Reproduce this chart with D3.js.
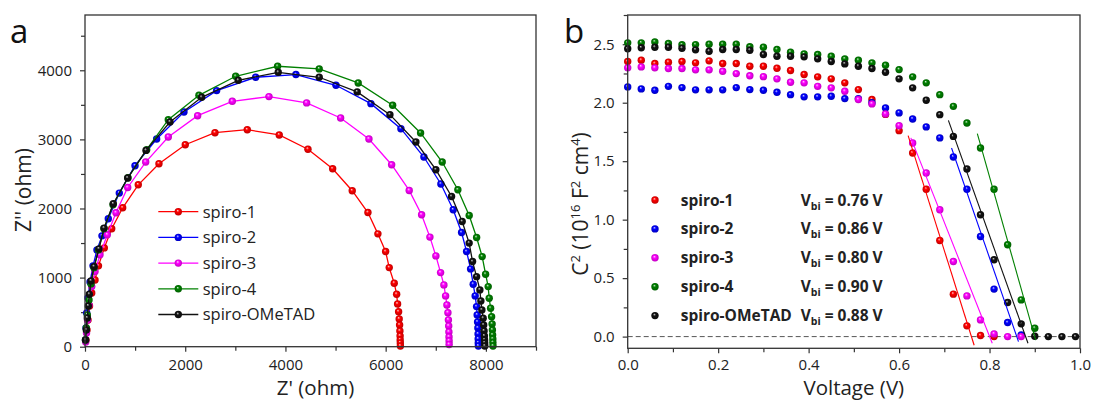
<!DOCTYPE html>
<html><head><meta charset="utf-8">
<script src="https://cdn.jsdelivr.net/npm/d3@7"></script>
<style>body{margin:0;background:#fff}svg{display:block;font-family:"Open Sans",sans-serif}</style>
</head><body><svg id="c" width="1093" height="401"></svg>
<script>
// ---------- data ----------
const seriesNames = ["spiro-1","spiro-2","spiro-3","spiro-4","spiro-OMeTAD"];
const seriesColors = ["#ff0000","#0000ff","#ff00ff","#008000","#111111"];

// Panel a: Nyquist (Z', Z'')
const zRe1 = [20,40,60,90,134,200,269,385,533,752,1063,1476,2001,2594,3238,3876,4449,4942,5333,5646,5845,5999,6071,6171,6219,6238,6258,6270,6278,6284,6288,6290,6292,6294];
const zIm1 = [97,242,387,590,778,966,1170,1430,1706,2010,2343,2648,2923,3097,3140,3064,2858,2575,2257,1942,1633,1377,1145,919,759,619,507,401,314,228,155,97,54,10];
const zRe2 = [10,20,34,60,100,160,239,339,465,684,998,1430,1975,2627,3406,4209,5008,5706,6304,6763,7102,7348,7515,7615,7695,7747,7786,7814,7826,7834,7840,7844,7846,7848,7850];
const zIm2 = [97,271,488,706,938,1170,1401,1604,1851,2223,2619,3006,3397,3706,3899,3938,3783,3517,3155,2745,2354,1981,1652,1377,1126,904,735,580,459,358,271,184,112,54,10];
const zRe3 = [14,30,50,80,134,200,299,445,618,852,1211,1662,2248,2939,3671,4423,5101,5666,6119,6470,6717,6883,7002,7096,7162,7196,7222,7242,7252,7258,7262,7264,7266,7267];
const zIm3 = [68,199,387,604,870,1087,1329,1619,1938,2304,2672,3035,3343,3551,3619,3528,3310,3006,2633,2261,1909,1586,1314,1072,894,735,604,493,387,300,213,141,83,32];
const zRe4 = [10,26,46,80,120,180,269,379,559,858,1231,1662,2274,3007,3844,4674,5452,6139,6697,7128,7441,7667,7815,7926,7994,8046,8066,8094,8114,8124,8130,8134,8138,8140,8142];
const zIm4 = [97,271,459,677,909,1141,1401,1706,2054,2445,2851,3285,3638,3913,4058,4020,3817,3493,3093,2672,2271,1899,1580,1304,1049,870,701,557,435,329,242,170,112,61,10];
const zRe5 = [10,26,46,66,86,120,180,279,379,565,852,1217,1696,2328,3058,3856,4674,5432,6085,6603,7002,7315,7527,7666,7734,7814,7880,7900,7920,7946,7956,7964,7970,7974,7976,7978];
const zIm5 = [97,242,416,590,759,952,1159,1416,1716,2068,2441,2841,3252,3609,3855,3971,3899,3687,3358,2962,2561,2174,1812,1499,1232,1014,822,662,532,412,314,228,155,97,54,10];

const aXTicks = [0,2000,4000,6000,8000];
const aXMinor = [1000,3000,5000,7000,9000];
const aYTicks = [0,1000,2000,3000,4000];
const aYMinor = [500,1500,2500,3500,4500];

// Panel b: Mott-Schottky (C^-2 vs V)
const voltage = [0,0.03,0.06,0.09,0.12,0.15,0.18,0.21,0.24,0.27,0.30,0.33,0.36,0.39,0.42,0.45,0.48,0.51,0.54,0.57,0.60,0.63,0.66,0.69,0.72,0.75,0.78,0.81,0.84,0.87,0.90,0.93,0.96,0.99];
const c2_1 = [2.352,2.363,2.335,2.346,2.352,2.341,2.358,2.335,2.335,2.312,2.312,2.295,2.275,2.241,2.221,2.204,2.17,2.112,2.027,1.90,1.761,1.57,1.26,0.822,0.363,0.092,0.009,0.0];
const c2_2 = [2.135,2.118,2.106,2.140,2.129,2.11,2.11,2.11,2.129,2.112,2.106,2.089,2.069,2.05,2.05,2.055,2.035,2.035,2.00,1.955,1.913,1.861,1.793,1.699,1.536,1.26,0.856,0.406,0.12,0.015];
const c2_3 = [2.298,2.306,2.298,2.292,2.292,2.281,2.281,2.269,2.249,2.23,2.223,2.204,2.175,2.17,2.14,2.127,2.098,2.027,1.99,1.904,1.804,1.656,1.399,1.085,0.642,0.348,0.143,0.023,0.0,0.0];
const c2_4 = [2.512,2.512,2.52,2.506,2.495,2.497,2.50,2.50,2.50,2.478,2.474,2.455,2.432,2.418,2.412,2.397,2.375,2.363,2.341,2.32,2.283,2.221,2.17,2.069,1.969,1.827,1.613,1.26,0.785,0.314,0.072];
const c2_5 = [2.461,2.47,2.474,2.474,2.466,2.452,2.44,2.455,2.455,2.449,2.412,2.397,2.397,2.392,2.375,2.352,2.332,2.312,2.292,2.26,2.204,2.127,2.021,1.898,1.712,1.433,1.042,0.657,0.291,0.109,0.003,0.0,0.0,0.0];

const vbiLabels = ["0.76","0.86","0.80","0.90","0.88"];
const fitV = [[0.62,0.766],[0.716,0.864],[0.626,0.806],[0.773,0.902],[0.709,0.885]];
const fitC = [[1.718,-0.074],[1.613,-0.043],[1.699,-0.057],[1.735,-0.03],[1.849,-0.057]];

const bXTicks = [0,0.2,0.4,0.6,0.8,1.0];
const bXMinor = [0.1,0.3,0.5,0.7,0.9];
const bYTicks = [0,0.5,1.0,1.5,2.0,2.5];
const bYMinor = [0.25,0.75,1.25,1.75,2.25,2.75];

// ---------- drawing ----------
const svg = d3.select("#c");
const defs = svg.append("defs");
seriesColors.forEach((c,i)=>{
  const g = defs.append("radialGradient").attr("id","ball"+i)
    .attr("cx","50%").attr("cy","50%").attr("r","55%").attr("fx","40%").attr("fy","32%");
  g.append("stop").attr("offset","0%").attr("stop-color", d3.interpolateRgb(c,"#ffffff")(0.8));
  g.append("stop").attr("offset","35%").attr("stop-color", c);
  g.append("stop").attr("offset","100%").attr("stop-color", d3.color(c).darker(0.9));
});

const ink = "#222";
function styleAxis(g){
  g.attr("font-family",null).attr("font-size",null);
  g.select(".domain").remove();
  g.selectAll("line").attr("stroke","#333").attr("stroke-width",1.2);
  g.selectAll("text").attr("font-size",15).attr("fill",ink).attr("font-family","Open Sans");
}

// Panel a
const xa = d3.scaleLinear([0,9000],[85,536]);
const ya = d3.scaleLinear([0,4800],[346.7,15]);
const A = svg.append("g");
A.append("g").attr("transform",`translate(0,${ya(0)})`)
  .call(d3.axisBottom(xa).tickValues(aXTicks).tickSize(5).tickPadding(7.5).tickFormat(d3.format("d"))).call(styleAxis);
A.append("g").attr("transform",`translate(0,${ya(0)})`)
  .call(d3.axisBottom(xa).tickValues(aXMinor).tickSize(4).tickFormat("")).call(styleAxis);
A.append("g").attr("transform",`translate(${xa(0)},0)`)
  .call(d3.axisLeft(ya).tickValues(aYTicks).tickSize(5).tickPadding(8).tickFormat(d3.format("d"))).call(styleAxis);
A.append("g").attr("transform",`translate(${xa(0)},0)`)
  .call(d3.axisLeft(ya).tickValues(aYMinor).tickSize(4).tickFormat("")).call(styleAxis);

const nyq = [[zRe1,zIm1],[zRe2,zIm2],[zRe3,zIm3],[zRe4,zIm4],[zRe5,zIm5]];
const lineA = d3.line().x(d=>xa(d[0])).y(d=>ya(d[1]));
nyq.forEach(([re,im],i)=>{
  const pts = re.map((r,k)=>[r,im[k]]);
  A.append("path").datum(pts).attr("d",lineA).attr("fill","none")
    .attr("stroke",seriesColors[i]).attr("stroke-width",1.3);
  A.append("g").selectAll("circle").data(pts).join("circle")
    .attr("cx",d=>xa(d[0])).attr("cy",d=>ya(d[1])).attr("r",3.7)
    .attr("fill",`url(#ball${i})`);
});
A.append("rect").attr("x",xa(0)).attr("y",ya(4800)).attr("width",xa(9000)-xa(0)).attr("height",ya(0)-ya(4800))
  .attr("fill","none").attr("stroke","#333").attr("stroke-width",1.3);

// legend a
const legA = A.append("g");
seriesNames.forEach((n,i)=>{
  const y = 211.7 + i*25.7;
  legA.append("line").attr("x1",158.3).attr("x2",198.3).attr("y1",y).attr("y2",y)
    .attr("stroke",seriesColors[i]).attr("stroke-width",1.3);
  legA.append("circle").attr("cx",178.3).attr("cy",y).attr("r",3.7).attr("fill",`url(#ball${i})`);
  legA.append("text").attr("x",202.7).attr("y",y).attr("dy","0.36em")
    .attr("font-size",16.5).attr("fill",ink).text(n);
});

// titles a
A.append("text").attr("x",315.5).attr("y",395).attr("text-anchor","middle").attr("font-size",20.5).attr("fill",ink).text("Z' (ohm)");
A.append("text").attr("transform","translate(31,190) rotate(-90)").attr("text-anchor","middle").attr("font-size",21).attr("fill",ink).text("Z'' (ohm)");
A.append("text").attr("x",10).attr("y",42.7).attr("font-size",33).attr("fill","#111").text("a");

// Panel b
const xb = d3.scaleLinear([0,1],[627.7,1080]);
const yb = d3.scaleLinear([-0.1,2.75],[348.3,15]);
const B = svg.append("g");
B.append("g").attr("transform",`translate(0,${yb(-0.1)})`)
  .call(d3.axisBottom(xb).tickValues(bXTicks).tickSize(5).tickPadding(6).tickFormat(d3.format(".1f"))).call(styleAxis);
B.append("g").attr("transform",`translate(0,${yb(-0.1)})`)
  .call(d3.axisBottom(xb).tickValues(bXMinor).tickSize(4).tickFormat("")).call(styleAxis);
B.append("g").attr("transform",`translate(${xb(0)},0)`)
  .call(d3.axisLeft(yb).tickValues(bYTicks).tickSize(5).tickPadding(8).tickFormat(d3.format(".1f"))).call(styleAxis);
B.append("g").attr("transform",`translate(${xb(0)},0)`)
  .call(d3.axisLeft(yb).tickValues(bYMinor).tickSize(4).tickFormat("")).call(styleAxis);

B.append("line").attr("x1",xb(0)).attr("x2",xb(1)).attr("y1",yb(0)).attr("y2",yb(0))
  .attr("stroke","#555").attr("stroke-width",1).attr("stroke-dasharray","5,3");

const ms = [c2_1,c2_2,c2_3,c2_4,c2_5];
ms.forEach((vals,i)=>{
  const pts = vals.map((c,k)=>[voltage[k],c]);
  B.append("g").selectAll("circle").data(pts).join("circle")
    .attr("cx",d=>xb(d[0])).attr("cy",d=>yb(d[1])).attr("r",3.7)
    .attr("fill",`url(#ball${i})`);
});
ms.forEach((vals,i)=>{
  B.append("line").attr("x1",xb(fitV[i][0])).attr("x2",xb(fitV[i][1]))
    .attr("y1",yb(fitC[i][0])).attr("y2",yb(fitC[i][1]))
    .attr("stroke",seriesColors[i]).attr("stroke-width",1.1);
});
B.append("rect").attr("x",xb(0)).attr("y",yb(2.75)).attr("width",xb(1)-xb(0)).attr("height",yb(-0.1)-yb(2.75))
  .attr("fill","none").attr("stroke","#333").attr("stroke-width",1.3);

// legend b
const legB = B.append("g");
seriesNames.forEach((n,i)=>{
  const y = 200 + i*28.9;
  legB.append("circle").attr("cx",655).attr("cy",y).attr("r",3.7).attr("fill",`url(#ball${i})`);
  legB.append("text").attr("x",680.7).attr("y",y).attr("dy","0.36em")
    .attr("font-size",15.5).attr("font-weight","bold").attr("fill",ink).text(n);
  const t = legB.append("text").attr("x",800.7).attr("y",y).attr("dy","0.36em")
    .attr("font-size",15.5).attr("font-weight","bold").attr("fill",ink);
  t.append("tspan").text("V");
  t.append("tspan").attr("font-size",10.5).attr("dy",4).text("bi");
  t.append("tspan").attr("dy",-4).text(" = " + vbiLabels[i] + " V");
});

// titles b
B.append("text").attr("x",853.8).attr("y",395).attr("text-anchor","middle").attr("font-size",20.5).attr("fill",ink).text("Voltage (V)");
const yt = B.append("text").attr("transform","translate(588,204) rotate(-90)").attr("text-anchor","middle").attr("font-size",21).attr("fill",ink);
yt.append("tspan").text("C");
yt.append("tspan").attr("font-size",13).attr("dy",-8).text("2");
yt.append("tspan").attr("dy",8).text(" (10");
yt.append("tspan").attr("font-size",13).attr("dy",-8).text("16");
yt.append("tspan").attr("dy",8).text(" F");
yt.append("tspan").attr("font-size",13).attr("dy",-8).text("2");
yt.append("tspan").attr("dy",8).text(" cm");
yt.append("tspan").attr("font-size",13).attr("dy",-8).text("4");
yt.append("tspan").attr("dy",8).text(")");
B.append("text").attr("x",564).attr("y",42.7).attr("font-size",33).attr("fill","#111").text("b");
</script>
</body></html>
